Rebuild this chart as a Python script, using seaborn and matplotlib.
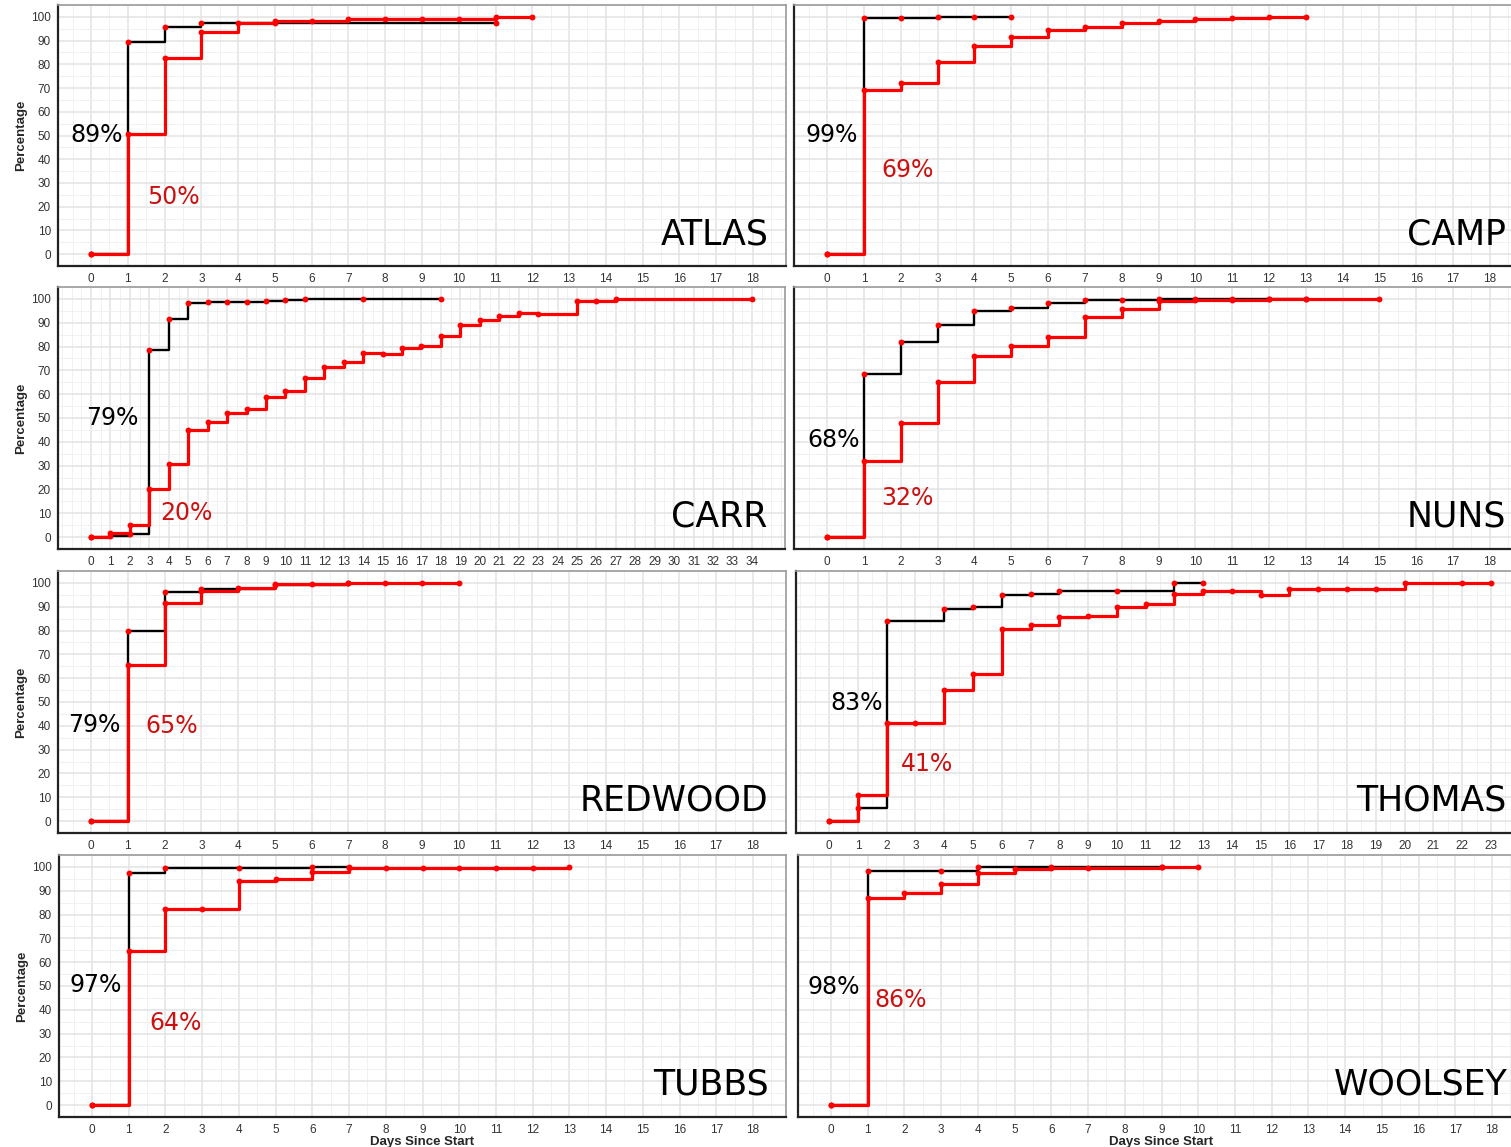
import matplotlib
matplotlib.use("Agg")
import matplotlib.pyplot as plt
import seaborn as sns
from matplotlib.ticker import MultipleLocator

# ---- data (day, percentage) ----
atlas_days_black = [0, 1, 2, 3, 5, 11]
atlas_pct_black = [0, 89.2, 95.9, 97.3, 97.3, 97.3]
atlas_days_red = [0, 1, 2, 3, 4, 5, 6, 7, 8, 9, 10, 11, 12]
atlas_pct_red = [0, 50.5, 82.7, 93.8, 97.3, 98.3, 98.3, 99.0, 99.0, 99.0, 99.0, 100, 100]

camp_days_black = [0, 1, 2, 3, 4, 5]
camp_pct_black = [0, 99.6, 99.7, 99.8, 99.9, 100]
camp_days_red = [0, 1, 2, 3, 4, 5, 6, 7, 8, 9, 10, 11, 12, 13]
camp_pct_red = [0, 69.1, 72.2, 81.1, 87.8, 91.6, 94.5, 95.8, 97.3, 98.3, 98.9, 99.7, 100, 100]

carr_days_black = [0, 1, 2, 3, 4, 5, 6, 7, 8, 9, 10, 11, 14, 18]
carr_pct_black = [0, 0.6, 1.2, 78.6, 91.5, 98.4, 98.6, 98.7, 98.8, 99.2, 99.6, 99.8, 100, 100]
carr_days_red = [0, 1, 2, 3, 4, 5, 6, 7, 8, 9, 10, 11, 12, 13, 14, 15, 16, 17,
                 18, 19, 20, 21, 22, 23, 25, 26, 27, 34]
carr_pct_red = [0, 1.7, 5.2, 20.4, 30.8, 44.8, 48.3, 51.9, 53.6, 58.9, 61.4, 66.6,
                71.6, 73.7, 77.2, 76.8, 79.2, 80.4, 84.6, 89.0, 91.0, 92.7, 94.0,
                93.8, 99.3, 99.3, 100, 100]

nuns_days_black = [0, 1, 2, 3, 4, 5, 6, 7, 8, 9, 10, 11, 12, 13]
nuns_pct_black = [0, 68.5, 81.8, 89.0, 95.0, 96.2, 98.1, 99.4, 99.6, 99.8, 99.9, 100, 100, 100]
nuns_days_red = [0, 1, 2, 3, 4, 5, 6, 7, 8, 9, 10, 11, 12, 13, 15]
nuns_pct_red = [0, 32.0, 48.0, 65.0, 76.1, 80.3, 83.9, 92.6, 95.6, 99.3, 99.4, 99.7, 99.9, 100, 100]

redwood_days_black = [0, 1, 2, 3, 5, 7]
redwood_pct_black = [0, 79.6, 96.1, 97.3, 99.2, 99.9]
redwood_days_red = [0, 1, 2, 3, 4, 5, 6, 7, 8, 9, 10]
redwood_pct_red = [0, 65.6, 91.6, 96.6, 98.0, 99.4, 99.4, 100, 100, 100, 100]

thomas_days_black = [0, 1, 2, 4, 5, 6, 7, 8, 10, 12, 13]
thomas_pct_black = [0, 5.3, 83.9, 89.0, 89.7, 95.0, 95.5, 96.6, 96.6, 100, 100]
thomas_days_red = [0, 1, 2, 3, 4, 5, 6, 7, 8, 9, 10, 11, 12, 13, 14, 15, 16, 17,
                   18, 19, 20, 22, 23]
thomas_pct_red = [0, 10.8, 41.2, 41.2, 55.0, 61.6, 80.7, 82.3, 85.5, 86.0, 89.8,
                  91.2, 95.4, 96.4, 96.4, 95.1, 97.5, 97.5, 97.5, 97.5, 100, 100, 100]

tubbs_days_black = [0, 1, 2, 4, 6, 7]
tubbs_pct_black = [0, 97.5, 99.4, 99.7, 100, 100]
tubbs_days_red = [0, 1, 2, 3, 4, 5, 6, 7, 8, 9, 10, 11, 12, 13]
tubbs_pct_red = [0, 64.7, 82.3, 82.3, 94.1, 95.1, 97.8, 99.6, 99.6, 99.6, 99.6, 99.7, 99.7, 100]

woolsey_days_black = [0, 1, 3, 4, 6, 9]
woolsey_pct_black = [0, 98.3, 98.3, 100, 100, 100]
woolsey_days_red = [0, 1, 2, 3, 4, 5, 6, 7, 9, 10]
woolsey_pct_red = [0, 87.0, 89.0, 92.9, 97.6, 99.2, 99.7, 99.7, 100, 100]

fires = ["ATLAS", "CAMP", "CARR", "NUNS", "REDWOOD", "THOMAS", "TUBBS", "WOOLSEY"]
black_labels = ["89%", "99%", "79%", "68%", "79%", "83%", "97%", "98%"]
red_labels = ["50%", "69%", "20%", "32%", "65%", "41%", "64%", "86%"]
last_tick = [18, 18, 34, 18, 18, 23, 18, 18]

series = {
    "ATLAS": (atlas_days_black, atlas_pct_black, atlas_days_red, atlas_pct_red),
    "CAMP": (camp_days_black, camp_pct_black, camp_days_red, camp_pct_red),
    "CARR": (carr_days_black, carr_pct_black, carr_days_red, carr_pct_red),
    "NUNS": (nuns_days_black, nuns_pct_black, nuns_days_red, nuns_pct_red),
    "REDWOOD": (redwood_days_black, redwood_pct_black, redwood_days_red, redwood_pct_red),
    "THOMAS": (thomas_days_black, thomas_pct_black, thomas_days_red, thomas_pct_red),
    "TUBBS": (tubbs_days_black, tubbs_pct_black, tubbs_days_red, tubbs_pct_red),
    "WOOLSEY": (woolsey_days_black, woolsey_pct_black, woolsey_days_red, woolsey_pct_red),
}

# ---- layout (pixel boxes of each panel, label anchors in data coords) ----
W, H = 1511, 1147
boxes = [(58, 5, 786, 266), (794, 5, 1523, 266),
         (58, 287, 785, 549), (794, 287, 1523, 549),
         (58, 571, 786, 833), (796, 571, 1524, 833),
         (59, 855, 786, 1117), (798, 855, 1525, 1117)]
black_pos = [(0.15, 50), (0.12, 50), (1.09, 50), (0.17, 40.8),
             (0.1, 40.2), (0.96, 49.6), (0.1, 50.4), (0.08, 49.7)]
red_pos = [(2.24, 24), (2.18, 35.5), (4.9, 10.3), (2.17, 16.4),
           (2.2, 40), (3.39, 24), (2.27, 34.6), (1.9, 44)]

sns.set_style("white")
plt.rcParams['font.family'] = ['Liberation Sans', 'DejaVu Sans']

fig = plt.figure(figsize=(W / 100, H / 100), dpi=100)

for i, fire in enumerate(fires):
    l, t, r, b = boxes[i]
    ax = fig.add_axes([l / W, 1 - b / H, (r - l) / W, (b - t) / H])
    xb, yb, xr, yr = series[fire]

    sns.lineplot(x=xb, y=yb, ax=ax, color="black", linewidth=1.7,
                 drawstyle="steps-post", zorder=3)
    sns.lineplot(x=xr, y=yr, ax=ax, color="#ff0000", linewidth=2.3,
                 drawstyle="steps-post", zorder=4)
    sns.scatterplot(x=xb, y=yb, ax=ax, color="#ff0000", s=18, linewidth=0, zorder=5)
    sns.scatterplot(x=xr, y=yr, ax=ax, color="#ff0000", s=18, linewidth=0, zorder=5)

    n = last_tick[i]
    pad = n * 0.05
    ax.set_xlim(-pad, n + pad)
    ax.set_ylim(-5, 105)
    ax.set_xticks(range(0, n + 1))
    ax.set_yticks(range(0, 101, 10))
    ax.xaxis.set_minor_locator(MultipleLocator(0.5))
    ax.yaxis.set_minor_locator(MultipleLocator(5))
    ax.grid(which="major", color="#e3e3e3", linewidth=1.1, zorder=0)
    ax.grid(which="minor", color="#efefef", linewidth=0.6, zorder=0)
    ax.set_axisbelow(True)
    ax.tick_params(which="major", length=3, width=0.8, color="#333333",
                   labelsize=8.5, labelcolor="#333333", pad=2)
    ax.tick_params(which="minor", length=0)

    for side in ["top", "right"]:
        ax.spines[side].set_color("#9a9a9a")
        ax.spines[side].set_linewidth(1.2)
    for side in ["left", "bottom"]:
        ax.spines[side].set_color("#222222")
        ax.spines[side].set_linewidth(1.6)

    if i % 2 == 0:
        ax.set_ylabel("Percentage", fontsize=9.5, fontweight="bold", labelpad=3)
    else:
        ax.set_ylabel("")
        ax.tick_params(axis="y", labelleft=False)

    if i >= 6:
        ax.set_xlabel("Days Since Start", fontsize=9.5, fontweight="bold", labelpad=0)
    else:
        ax.set_xlabel("")

    ax.text(black_pos[i][0], black_pos[i][1], black_labels[i], color="black",
            fontsize=17, ha="center", va="center", family="DejaVu Sans", zorder=6)
    ax.text(red_pos[i][0], red_pos[i][1], red_labels[i], color="#cc1111",
            fontsize=17, ha="center", va="center", family="DejaVu Sans", zorder=6)
    ax.text(0.976, 0.084, fire, transform=ax.transAxes, fontsize=25,
            ha="right", va="baseline", family="DejaVu Sans", color="black", zorder=6)

fig.savefig("out.png", dpi=100)
